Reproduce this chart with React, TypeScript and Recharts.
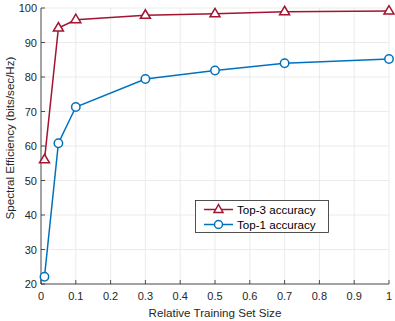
import React from 'react';
import { LineChart, Line, XAxis, YAxis, CartesianGrid } from 'recharts';

const trainingSizes = [0.01, 0.05, 0.1, 0.3, 0.5, 0.7, 1.0];
const top3Accuracy = [56, 94.2, 96.6, 97.9, 98.3, 98.9, 99.1];
const top1Accuracy = [22.1, 60.8, 71.3, 79.4, 81.9, 84.0, 85.2];
const xTicks = [0, 0.1, 0.2, 0.3, 0.4, 0.5, 0.6, 0.7, 0.8, 0.9, 1];
const yTicks = [20, 30, 40, 50, 60, 70, 80, 90, 100];
const seriesNames = ['Top-3 accuracy', 'Top-1 accuracy'];

const data = trainingSizes.map((x, i) => ({ x, top3: top3Accuracy[i], top1: top1Accuracy[i] }));

const RED = '#A2142F';
const BLUE = '#0072BD';
const AXIS = '#262626';
const FONT = 'Liberation Sans, Arial, sans-serif';

const fmtX = (v: number) => (v === 0 || v === 1 ? String(v) : v.toFixed(1));

const XTick = (props: any) => {
  const { x, y, payload } = props;
  return (
    <g>
      <line x1={x} x2={x} y1={y} y2={y - 4} stroke={AXIS} strokeWidth={0.8} />
      <text x={x} y={y + 12} textAnchor="middle" dominantBaseline="central" fontSize={11} fill={AXIS} fontFamily={FONT}>
        {fmtX(payload.value)}
      </text>
    </g>
  );
};

const XTopTick = (props: any) => {
  const { x, y } = props;
  return <line x1={x} x2={x} y1={y} y2={y + 4} stroke={AXIS} strokeWidth={0.8} />;
};

const YTick = (props: any) => {
  const { x, y, payload } = props;
  return (
    <g>
      <line x1={x} x2={x + 4} y1={y} y2={y} stroke={AXIS} strokeWidth={0.8} />
      <text x={x - 4} y={y} textAnchor="end" dominantBaseline="central" fontSize={11} fill={AXIS} fontFamily={FONT}>
        {payload.value}
      </text>
    </g>
  );
};

const YRightTick = (props: any) => {
  const { x, y } = props;
  return <line x1={x} x2={x - 4} y1={y} y2={y} stroke={AXIS} strokeWidth={0.8} />;
};

const Triangle = (props: any) => {
  const { cx, cy, stroke } = props;
  if (cx == null || cy == null) return null;
  return (
    <polygon
      points={`${cx},${cy - 5.5} ${cx - 5},${cy + 3} ${cx + 5},${cy + 3}`}
      fill="#fff"
      stroke={stroke}
      strokeWidth={1.5}
    />
  );
};

const Circle = (props: any) => {
  const { cx, cy, stroke } = props;
  if (cx == null || cy == null) return null;
  return <circle cx={cx} cy={cy} r={4.2} fill="#fff" stroke={stroke} strokeWidth={1.5} />;
};

const YLabel = (props: any) => {
  const vb = props.viewBox || {};
  const cy = (vb.y ?? 8) + (vb.height ?? 276) / 2 - 8;
  return (
    <text
      x={9}
      y={cy}
      transform={`rotate(-90, 9, ${cy})`}
      textAnchor="middle"
      dominantBaseline="central"
      fontSize={11.6}
      fill={AXIS}
      fontFamily={FONT}
    >
      Spectral Efficiency (bits/sec/Hz)
    </text>
  );
};

const XLabel = (props: any) => {
  const vb = props.viewBox || {};
  const cx = (vb.x ?? 41) + (vb.width ?? 348) / 2;
  return (
    <text x={cx} y={312} textAnchor="middle" dominantBaseline="central" fontSize={11.6} fill={AXIS} fontFamily={FONT}>
      Relative Training Set Size
    </text>
  );
};

const LegendBox = () => {
  const items = [
    { name: seriesNames[0], color: RED, marker: 'tri' },
    { name: seriesNames[1], color: BLUE, marker: 'circ' },
  ];
  return (
    <svg width={134} height={33} style={{ display: 'block' }}>
      <rect x={0.5} y={0.5} width={133} height={32} fill="#fff" stroke={AXIS} strokeWidth={0.8} />
      {items.map((it, i) => {
        const cy = 9.5 + i * 15;
        return (
          <g key={it.name}>
            <line x1={9} x2={38} y1={cy} y2={cy} stroke={it.color} strokeWidth={1.5} />
            {it.marker === 'tri' ? (
              <polygon points={`${23.5},${cy - 5} ${19},${cy + 3} ${28},${cy + 3}`} fill="#fff" stroke={it.color} strokeWidth={1.5} />
            ) : (
              <circle cx={23.5} cy={cy} r={4} fill="#fff" stroke={it.color} strokeWidth={1.5} />
            )}
            <text x={42} y={cy} dominantBaseline="central" fontSize={11.6} fill="#000" fontFamily={FONT}>
              {it.name}
            </text>
          </g>
        );
      })}
    </svg>
  );
};

export default function App() {
  return (
    <div style={{ position: 'absolute', left: 0, top: 0, width: 395, height: 321, background: '#fff' }}>
      <LineChart width={395} height={321} data={data} margin={{ top: 8, right: 6, bottom: 0, left: 0 }}>
        <CartesianGrid xAxisId="b" yAxisId="l" stroke="#e6e6e6" strokeWidth={0.8} />
        <XAxis
          xAxisId="b"
          dataKey="x"
          type="number"
          domain={[0, 1]}
          ticks={xTicks}
          tickSize={0}
          tickMargin={0}
          height={37}
          tick={<XTick />}
          axisLine={{ stroke: AXIS, strokeWidth: 0.8 }}
          tickLine={false}
          interval={0}
          label={<XLabel />}
        />
        <XAxis
          xAxisId="t"
          orientation="top"
          dataKey="x"
          type="number"
          domain={[0, 1]}
          ticks={xTicks}
          tickSize={0}
          tickMargin={0}
          height={0}
          tick={<XTopTick />}
          axisLine={{ stroke: AXIS, strokeWidth: 0.8 }}
          tickLine={false}
          interval={0}
        />
        <YAxis
          yAxisId="l"
          type="number"
          domain={[20, 100]}
          ticks={yTicks}
          tickSize={0}
          tickMargin={0}
          width={41}
          tick={<YTick />}
          axisLine={{ stroke: AXIS, strokeWidth: 0.8 }}
          tickLine={false}
          interval={0}
          label={<YLabel />}
        />
        <YAxis
          yAxisId="r"
          orientation="right"
          type="number"
          domain={[20, 100]}
          ticks={yTicks}
          tickSize={0}
          tickMargin={0}
          width={0}
          tick={<YRightTick />}
          axisLine={{ stroke: AXIS, strokeWidth: 0.8 }}
          tickLine={false}
          interval={0}
        />
        <Line
          xAxisId="b"
          yAxisId="l"
          dataKey="top3"
          name={seriesNames[0]}
          stroke={RED}
          strokeWidth={1.5}
          dot={<Triangle />}
          isAnimationActive={false}
        />
        <Line
          xAxisId="b"
          yAxisId="l"
          dataKey="top1"
          name={seriesNames[1]}
          stroke={BLUE}
          strokeWidth={1.5}
          dot={<Circle />}
          isAnimationActive={false}
        />
      </LineChart>
      <div style={{ position: 'absolute', left: 195, top: 200, width: 134, height: 33 }}>
        <LegendBox />
      </div>
    </div>
  );
}
